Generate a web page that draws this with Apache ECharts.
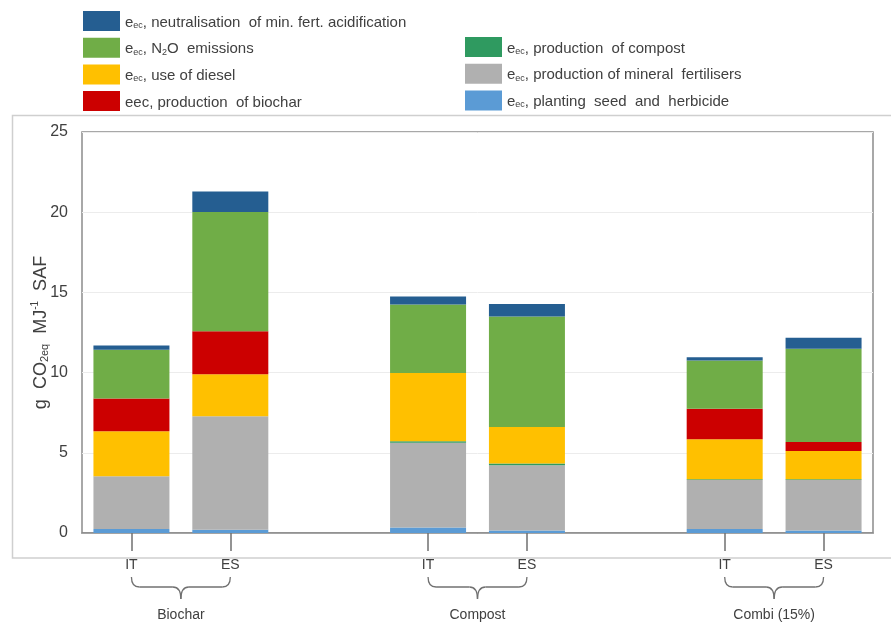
<!DOCTYPE html>
<html>
<head>
<meta charset="utf-8">
<script src="https://cdn.jsdelivr.net/npm/echarts@6/dist/echarts.min.js"></script>
<style>
html, body { margin: 0; padding: 0; background: #fff; }
#data_show { width: 891px; height: 623px; }
</style>
</head>
<body>
<div id="data_show"></div>
<script>
var categories = ['IT', 'ES', '', 'IT', 'ES', '', 'IT', 'ES'];//国家/空位
var group_names = ['Biochar', 'Compost', 'Combi (15%)'];
var group_pairs = [[0, 1], [3, 4], [6, 7]];
var y_ticks = [0, 5, 10, 15, 20, 25];

// stacked from bottom to top
var seed_data = [0.25, 0.2, null, 0.35, 0.15, null, 0.25, 0.15];
var mineral_data = [3.29, 7.08, null, 5.27, 4.08, null, 3.05, 3.15];
var compost_data = [0, 0, null, 0.1, 0.1, null, 0.05, 0.05];
var diesel_data = [2.8, 2.61, null, 4.25, 2.28, null, 2.5, 1.77];
var biochar_data = [2.04, 2.69, null, 0, 0, null, 1.9, 0.56];
var n2o_data = [3.04, 7.44, null, 4.27, 6.89, null, 3.01, 5.81];
var neutral_data = [0.27, 1.27, null, 0.5, 0.78, null, 0.2, 0.68];

var series_names = ['seed', 'mineral', 'compost', 'diesel', 'biochar', 'n2o', 'neutral'];
var series_values = [seed_data, mineral_data, compost_data, diesel_data, biochar_data, n2o_data, neutral_data];
var series_colors = ['#5b9bd5', '#b0b0b0', '#2f9a60', '#ffc000', '#cc0000', '#70ad47', '#255e91'];
var legend_labels = {
	neutral: '{t|e}{s|ec}{t|, neutralisation  of min. fert. acidification}',
	n2o: '{t|e}{s|ec}{t|, N}{s|2}{t|O  emissions}',
	diesel: '{t|e}{s|ec}{t|, use of diesel}',
	biochar: '{t|eec, production  of biochar}',
	compost: '{t|e}{s|ec}{t|, production  of compost}',
	mineral: '{t|e}{s|ec}{t|, production of mineral  fertilisers}',
	seed: '{t|e}{s|ec}{t|, planting  seed  and  herbicide}'
};

var chart = echarts.init(document.getElementById('data_show'));

var legend_text = {
	color: '#404040',
	rich: {
		t: { fontSize: 15, color: '#404040', fontFamily: 'Liberation Sans', verticalAlign: 'bottom', lineHeight: 18 },
		s: { fontSize: 9, color: '#404040', fontFamily: 'Liberation Sans', verticalAlign: 'bottom', lineHeight: 14 }
	}
};

var series = [];
for (var i = 0; i < series_names.length; i++) {
	series.push({
		name: series_names[i],
		type: 'bar',
		stack: 'total',
		barWidth: 76,
		itemStyle: { color: series_colors[i] },
		emphasis: { disabled: true },
		data: series_values[i]
	});
}

var option = {
	animation: false,
	textStyle: { fontFamily: 'Liberation Sans' },
	legend: [{
		orient: 'vertical',
		left: 83,
		top: 11,
		padding: 0,
		itemWidth: 37,
		itemHeight: 20,
		itemGap: 6.7,
		icon: 'rect',
		selectedMode: false,
		data: ['neutral', 'n2o', 'diesel', 'biochar'],
		formatter: function (name) { return legend_labels[name]; },
		textStyle: legend_text
	}, {
		orient: 'vertical',
		left: 465,
		top: 37,
		padding: 0,
		itemWidth: 37,
		itemHeight: 20,
		itemGap: 6.7,
		icon: 'rect',
		selectedMode: false,
		data: ['compost', 'mineral', 'seed'],
		formatter: function (name) { return legend_labels[name]; },
		textStyle: legend_text
	}],
	grid: {
		left: 82,
		right: 18,
		top: 132,
		bottom: 90,
		show: true,
		borderColor: '#8c8c8c',
		borderWidth: 1.5
	},
	xAxis: {
		type: 'category',
		data: categories,
		axisLine: { show: true, lineStyle: { color: '#8c8c8c', width: 1.5 } },
		axisTick: {
			show: true,
			alignWithLabel: true,
			length: 18,
			interval: function (index, value) { return value !== ''; },
			lineStyle: { color: '#707070', width: 1.5 }
		},
		axisLabel: { interval: 0, margin: 25, fontSize: 14, color: '#404040' },
		splitLine: { show: false }
	},
	yAxis: {
		type: 'value',
		min: y_ticks[0],
		max: y_ticks[y_ticks.length - 1],
		interval: 5,
		name: '{t|g  CO}{s|2eq}{t|  MJ}{p|-1}{t|  SAF}',
		nameLocation: 'middle',
		nameGap: 32,
		nameMoveOverlap: false,
		nameTextStyle: {
			rich: {
				t: { fontSize: 18, color: '#404040', fontFamily: 'Liberation Sans', verticalAlign: 'bottom', lineHeight: 20 },
				s: { fontSize: 11, color: '#404040', fontFamily: 'Liberation Sans', verticalAlign: 'bottom', lineHeight: 15 },
				p: { fontSize: 10, color: '#404040', fontFamily: 'Liberation Sans', verticalAlign: 'top', lineHeight: 10 }
			}
		},
		axisLine: { show: false },
		axisTick: { show: false },
		axisLabel: { fontSize: 16, color: '#404040', margin: 14 },
		splitLine: { lineStyle: { color: '#ececec' } }
	},
	series: series
};
chart.setOption(option);

// 外框 + 括号
var base_y = chart.convertToPixel({ yAxisIndex: 0 }, 0);
var brace_style = { fill: null, stroke: '#707070', lineWidth: 1.3 };
var graphics = [{
	type: 'rect',
	silent: true,
	z: -1,
	shape: { x: 12.5, y: 115.5, width: 900, height: base_y + 25 - 115.5 },
	style: { fill: null, stroke: '#cfcfcf', lineWidth: 1.5 }
}];
for (var g = 0; g < group_pairs.length; g++) {
	var x1 = chart.convertToPixel({ xAxisIndex: 0 }, group_pairs[g][0]);
	var x2 = chart.convertToPixel({ xAxisIndex: 0 }, group_pairs[g][1]);
	var xm = (x1 + x2) / 2;
	var y0 = base_y + 44, yh = base_y + 54, yt = base_y + 66;
	var parts = [
		{ type: 'bezierCurve', shape: { x1: x1, y1: y0, cpx1: x1, cpy1: yh, x2: x1 + 8, y2: yh } },
		{ type: 'line', shape: { x1: x1 + 8, y1: yh, x2: xm - 8, y2: yh } },
		{ type: 'bezierCurve', shape: { x1: xm - 8, y1: yh, cpx1: xm, cpy1: yh, x2: xm, y2: yt } },
		{ type: 'bezierCurve', shape: { x1: xm, y1: yt, cpx1: xm, cpy1: yh, x2: xm + 8, y2: yh } },
		{ type: 'line', shape: { x1: xm + 8, y1: yh, x2: x2 - 8, y2: yh } },
		{ type: 'bezierCurve', shape: { x1: x2 - 8, y1: yh, cpx1: x2, cpy1: yh, x2: x2, y2: y0 } }
	];
	for (var k = 0; k < parts.length; k++) {
		parts[k].silent = true;
		parts[k].style = brace_style;
		graphics.push(parts[k]);
	}
	graphics.push({
		type: 'text',
		silent: true,
		x: xm,
		y: base_y + 82,
		style: {
			text: group_names[g],
			fill: '#404040',
			font: '14px "Liberation Sans"',
			align: 'center',
			verticalAlign: 'middle'
		}
	});
}
chart.setOption({ graphic: graphics });
</script>
</body>
</html>
